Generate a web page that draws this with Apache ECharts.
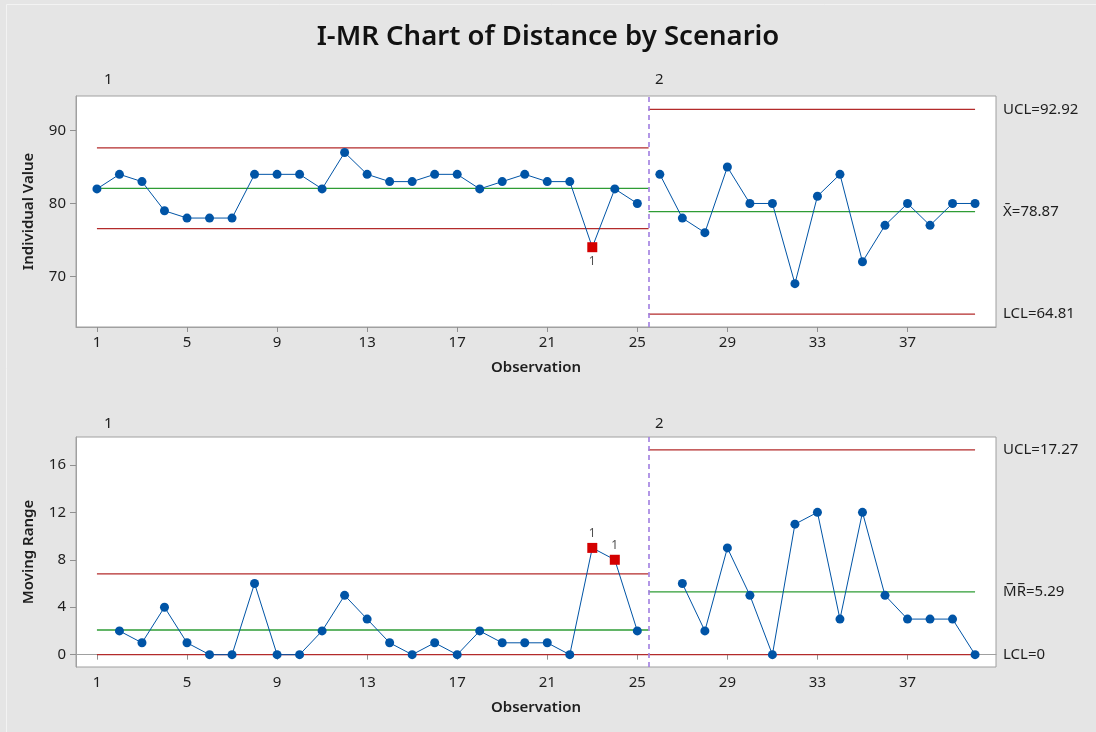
<!DOCTYPE html>
<html>
<head>
<meta charset="utf-8">
<script src="https://cdn.jsdelivr.net/npm/echarts@6/dist/echarts.min.js"></script>
<style>
html,body{margin:0;padding:0;background:#e5e5e5;}
#chart{width:1096px;height:732px;}
</style>
</head>
<body>
<div id="chart"></div>
<script>
// ---------------- data ----------------
const observations = [1,2,3,4,5,6,7,8,9,10,11,12,13,14,15,16,17,18,19,20,21,22,23,24,25,26,27,28,29,30,31,32,33,34,35,36,37,38,39,40];
const stageOf = [1,1,1,1,1,1,1,1,1,1,1,1,1,1,1,1,1,1,1,1,1,1,1,1,1,2,2,2,2,2,2,2,2,2,2,2,2,2,2,2];
const individualValues = [82,84,83,79,78,78,78,84,84,84,82,87,84,83,83,84,84,82,83,84,83,83,74,82,80,84,78,76,85,80,80,69,81,84,72,77,80,77,80,80];
const movingRanges = [null,2,1,4,1,0,0,6,0,0,2,5,3,1,0,1,0,2,1,1,1,0,9,8,2,null,6,2,9,5,0,11,12,3,12,5,3,3,3,0];
const iFlagged = [23];
const mrFlagged = [23,24];

const stageNames = ['1','2'];
const stageStart = [1, 25.5];
const stageEnd = [25.5, 40];
const iCenter = [82.08, 78.87];
const iUCL = [87.62, 92.92];
const iLCL = [76.54, 64.81];
const mrCenter = [2.08, 5.29];
const mrUCL = [6.81, 17.27];
const mrLCL = [0, 0];
const stageDivider = 25.5;

const xTicks = [1,5,9,13,17,21,25,29,33,37];
const iTicks = [70,80,90];
const mrTicks = [0,4,8,12,16];

const iLabels = {ucl:'UCL=92.92', cl:'X\u0304=78.87', lcl:'LCL=64.81'};
const mrLabels = {ucl:'UCL=17.27', cl:'M\u0305R\u0305=5.29', lcl:'LCL=0'};

// ---------------- styles ----------------
const FONT = 'Noto Sans';
const BLUE = '#0054a6';
const RED_PT = '#d40000';
const LIMIT = '#b32b2b';
const CENTER = '#2e9c34';
const DIVIDER = '#a07ee0';
const AXIS = '#a0a0a0';
const TXT = 15;

function pointSeries(values, flagged, gridIdx, labelPos) {
  const out = [];
  [1,2].forEach(function (s) {
    const data = [];
    observations.forEach(function (o, i) {
      if (stageOf[i] !== s || values[i] === null) return;
      if (flagged.indexOf(o) >= 0) {
        data.push({
          value: [o, values[i]],
          symbol: 'rect', symbolSize: 10,
          itemStyle: {color: RED_PT},
          label: {show: true, formatter: '1', position: labelPos, distance: 3,
                  fontSize: 12, color: '#505050', fontFamily: FONT}
        });
      } else {
        data.push([o, values[i]]);
      }
    });
    out.push({
      type: 'line', xAxisIndex: gridIdx, yAxisIndex: gridIdx,
      data: data, symbol: 'circle', symbolSize: 9,
      lineStyle: {color: BLUE, width: 1},
      itemStyle: {color: BLUE},
      z: 5, silent: true
    });
  });
  return out;
}

function limitSeries(center, ucl, lcl, labels, gridIdx) {
  const out = [];
  for (let s = 0; s < 2; s++) {
    const last = s === 1;
    [[ucl[s], LIMIT, labels.ucl], [center[s], CENTER, labels.cl], [lcl[s], LIMIT, labels.lcl]].forEach(function (d) {
      out.push({
        type: 'line', xAxisIndex: gridIdx, yAxisIndex: gridIdx,
        data: [[stageStart[s], d[0]], [stageEnd[s], d[0]]],
        symbol: 'none', silent: true, z: 3,
        lineStyle: {color: d[1], width: 1.3},
        endLabel: last ? {show: true, formatter: d[2], distance: 28,
                          fontSize: TXT, color: '#1e1e1e', fontFamily: FONT} : {show: false}
      });
    });
  }
  out.push({
    type: 'line', xAxisIndex: gridIdx, yAxisIndex: gridIdx, data: [], silent: true,
    markLine: {
      symbol: 'none', silent: true, animation: false,
      label: {show: false},
      lineStyle: {color: DIVIDER, type: [5, 4], width: 1.6},
      data: [{xAxis: stageDivider}]
    }
  });
  return out;
}

function xAxis(gridIdx) {
  return {
    type: 'value', gridIndex: gridIdx, min: 0.07, max: 40.93,
    name: 'Observation', nameLocation: 'middle', nameGap: 33,
    nameTextStyle: {fontSize: TXT, fontWeight: 600, color: '#1e1e1e', fontFamily: FONT},
    axisLine: {show: true, lineStyle: {color: AXIS}},
    axisTick: {show: true, length: 5, lineStyle: {color: '#909090'}, customValues: xTicks},
    axisLabel: {fontSize: TXT, color: '#1e1e1e', margin: 8, fontFamily: FONT, customValues: xTicks},
    splitLine: {show: false}
  };
}
function yAxis(gridIdx, min, max, ticks, name) {
  return {
    type: 'value', gridIndex: gridIdx, min: min, max: max,
    name: name, nameLocation: 'middle', nameGap: 40, nameRotate: 90,
    nameTextStyle: {fontSize: TXT, fontWeight: 600, color: '#1e1e1e', fontFamily: FONT},
    axisLine: {show: true, lineStyle: {color: AXIS}},
    axisTick: {show: true, length: 6, lineStyle: {color: '#909090'}, customValues: ticks},
    axisLabel: {fontSize: TXT, color: '#1e1e1e', margin: 10, fontFamily: FONT, customValues: ticks},
    splitLine: {show: false}
  };
}

const chart = echarts.init(document.getElementById('chart'), null, {renderer: 'canvas'});
const option = {
  backgroundColor: '#e5e5e5',
  animation: false,
  title: {
    text: 'I-MR Chart of Distance by Scenario', left: 'center', top: 18,
    textStyle: {fontSize: 27.5, fontWeight: 600, color: '#111', fontFamily: FONT}
  },
  grid: [
    {left: 76, right: 100, top: 96, height: 231, show: true, backgroundColor: '#fff', borderColor: AXIS, borderWidth: 1},
    {left: 76, right: 100, top: 437, height: 230, show: true, backgroundColor: '#fff', borderColor: AXIS, borderWidth: 1}
  ],
  xAxis: [xAxis(0), xAxis(1)],
  yAxis: [
    yAxis(0, 63.05, 94.75, iTicks, 'Individual Value'),
    yAxis(1, -1.04, 18.35, mrTicks, 'Moving Range')
  ],
  graphic: [
    {type: 'rect', shape: {x: 6.5, y: 4.5, width: 1100, height: 740}, style: {fill: 'none', stroke: '#f3f3f3', lineWidth: 1}, silent: true},
    {type: 'text', left: 104, top: 72, style: {text: stageNames[0], fontSize: TXT, fill: '#1e1e1e', fontFamily: FONT}},
    {type: 'text', left: 655, top: 72, style: {text: stageNames[1], fontSize: TXT, fill: '#1e1e1e', fontFamily: FONT}},
    {type: 'text', left: 104, top: 416, style: {text: stageNames[0], fontSize: TXT, fill: '#1e1e1e', fontFamily: FONT}},
    {type: 'text', left: 655, top: 416, style: {text: stageNames[1], fontSize: TXT, fill: '#1e1e1e', fontFamily: FONT}}
  ],
  series: [].concat(
    limitSeries(iCenter, iUCL, iLCL, iLabels, 0),
    limitSeries(mrCenter, mrUCL, mrLCL, mrLabels, 1),
    pointSeries(individualValues, iFlagged, 0, 'bottom'),
    pointSeries(movingRanges, mrFlagged, 1, 'top')
  )
};
chart.setOption(option);
</script>
</body>
</html>
